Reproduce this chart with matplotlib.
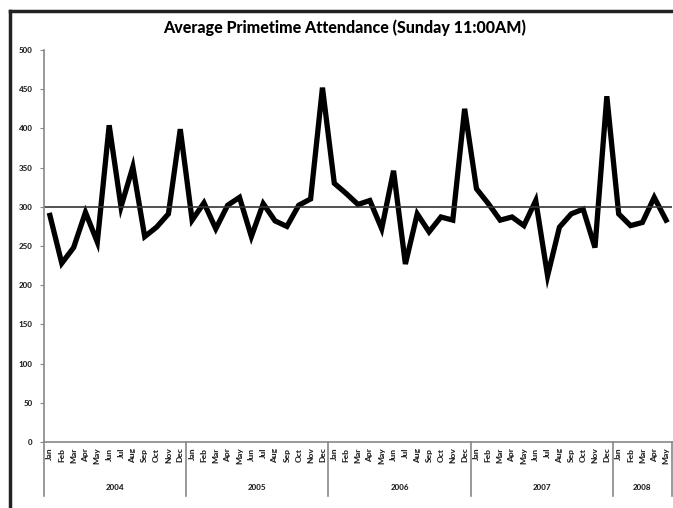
import numpy as np
import matplotlib
matplotlib.use('Agg')
from matplotlib import pyplot as plt
from matplotlib.lines import Line2D

plt.rcParams['font.family'] = ['Lato', 'DejaVu Sans']

##################################Data#################
month_names = ['Jan', 'Feb', 'Mar', 'Apr', 'May', 'Jun',
               'Jul', 'Aug', 'Sep', 'Oct', 'Nov', 'Dec']
years = ['2004', '2005', '2006', '2007', '2008']
months_per_year = [12, 12, 12, 12, 5]

attendance = [289, 228, 248, 293, 255, 404, 300, 351, 262, 274, 291, 399,
              283, 305, 272, 302, 312, 262, 304, 282, 275, 302, 310, 452,
              330, 317, 303, 308, 272, 346, 227, 291, 268, 287, 283, 425,
              323, 304, 283, 287, 276, 308, 212, 274, 291, 297, 248, 441,
              291, 276, 280, 312, 283]

target = 300
y_ticks = [0, 50, 100, 150, 200, 250, 300, 350, 400, 450, 500]

# month labels for every point
month_labels = []
for n in months_per_year:
    month_labels += month_names[:n]
x = np.arange(len(attendance))

##################################Plot#################
fig = plt.figure(figsize=(6.73, 5.08), dpi=100)
ax = fig.add_axes([44 / 673, 1 - 442 / 508, 628 / 673, 392 / 508])

ax.plot(x, attendance, color='black', linewidth=3.8, solid_joinstyle='miter')
ax.axhline(target, color='#333333', linewidth=1.2)

ax.set_xlim(-0.5, len(attendance) - 0.5)
ax.set_ylim(0, 500)
ax.set_yticks(y_ticks)
ax.set_yticklabels([str(v) for v in y_ticks], fontsize=5.8, fontweight='black', color='#222222')
ax.set_xticks(x)
ax.set_xticklabels(month_labels, rotation=90, fontsize=6, fontweight='black', color='#222222')
ax.tick_params(axis='y', length=3, width=0.8, color='#888888', pad=5)
ax.tick_params(axis='x', length=0, pad=4)

for side in ['top', 'right']:
    ax.spines[side].set_visible(False)
for side in ['left', 'bottom']:
    ax.spines[side].set_color('#888888')
    ax.spines[side].set_linewidth(1.2)

# year group separators and year labels under the month labels
edges = np.concatenate([[0], np.cumsum(months_per_year)]) - 0.5
trans = ax.get_xaxis_transform()
for e in edges:
    ax.add_line(Line2D([e, e], [0, -0.138], transform=trans, color='#888888',
                       linewidth=1.2, clip_on=False))
for i, yr in enumerate(years):
    mid = (edges[i] + edges[i + 1]) / 2
    ax.text(mid, -0.117, yr, transform=trans, ha='center', va='center',
            fontsize=5.8, fontweight='black', color='#222222')

fig.text(345 / 673, 1 - 28 / 508, 'Average Primetime Attendance (Sunday 11:00AM)',
         ha='center', va='center', fontsize=11.5, fontweight='black')

# frame along the top and left edge
fig.add_artist(Line2D([9.5 / 673, 1], [1 - 10.5 / 508, 1 - 10.5 / 508],
                      transform=fig.transFigure, color='#222222', linewidth=2.5))
fig.add_artist(Line2D([9.5 / 673, 9.5 / 673], [0, 1 - 10.5 / 508],
                      transform=fig.transFigure, color='#222222', linewidth=2.5))

fig.savefig('out.png', dpi=100)
